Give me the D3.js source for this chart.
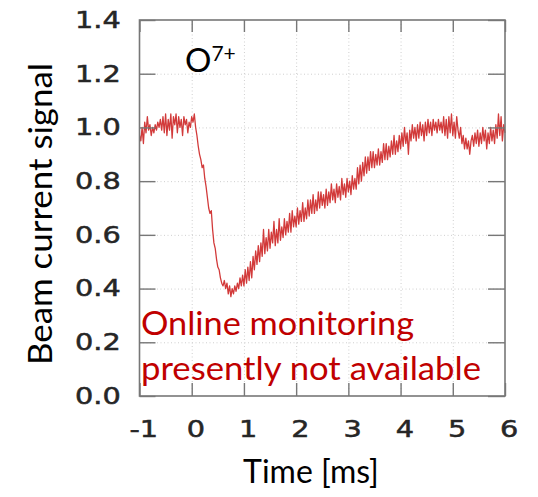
<!DOCTYPE html>
<html>
<head>
<meta charset="utf-8">
<script src="https://cdn.jsdelivr.net/npm/d3@7"></script>
<style>
  body { margin: 0; background: #fff; }
  svg { display: block; }
</style>
</head>
<body>
<svg id="chart" width="538" height="497"></svg>
<script>
// beam current trace, one sample every 0.025 ms starting at -1 ms
var tStart = -1, tStep = 0.025;
var signal = [
  0.97, 0.95, 1.00, 0.94, 1.02, 0.98, 1.04, 0.99, 1.01, 0.97,
  1.00, 0.98, 1.01, 0.99, 1.02, 1.00, 1.03, 0.99, 1.04, 0.98,
  1.05, 0.97, 1.03, 0.99, 1.05, 0.96, 1.04, 1.01, 1.05, 0.98,
  1.04, 1.00, 1.03, 0.97, 1.04, 1.01, 1.03, 0.98, 1.02, 1.00,
  1.04, 1.02, 1.05, 1.00, 0.97, 0.93, 0.90, 0.88, 0.85, 0.86,
  0.81, 0.78, 0.74, 0.70, 0.68, 0.69, 0.62, 0.57, 0.55, 0.51,
  0.48, 0.47, 0.44, 0.42, 0.41, 0.43, 0.40, 0.42, 0.38, 0.41,
  0.37, 0.40, 0.38, 0.41, 0.39, 0.42, 0.40, 0.44, 0.41, 0.45,
  0.41, 0.47, 0.42, 0.48, 0.43, 0.50, 0.44, 0.52, 0.47, 0.54,
  0.49, 0.56, 0.50, 0.57, 0.52, 0.62, 0.53, 0.59, 0.54, 0.62,
  0.55, 0.61, 0.57, 0.65, 0.56, 0.62, 0.57, 0.66, 0.58, 0.63,
  0.59, 0.66, 0.60, 0.65, 0.61, 0.68, 0.61, 0.69, 0.63, 0.67,
  0.63, 0.70, 0.64, 0.69, 0.65, 0.72, 0.65, 0.70, 0.66, 0.73,
  0.67, 0.73, 0.68, 0.75, 0.68, 0.73, 0.69, 0.76, 0.70, 0.76,
  0.71, 0.75, 0.70, 0.77, 0.71, 0.76, 0.72, 0.79, 0.73, 0.77,
  0.72, 0.79, 0.74, 0.78, 0.73, 0.81, 0.75, 0.79, 0.74, 0.81,
  0.76, 0.80, 0.75, 0.82, 0.77, 0.81, 0.77, 0.85, 0.79, 0.86,
  0.80, 0.87, 0.82, 0.89, 0.83, 0.89, 0.84, 0.91, 0.85, 0.91,
  0.85, 0.90, 0.86, 0.92, 0.86, 0.91, 0.87, 0.94, 0.88, 0.94,
  0.88, 0.93, 0.89, 0.95, 0.90, 0.97, 0.90, 0.95, 0.91, 0.97,
  0.92, 0.98, 0.93, 1.00, 0.94, 0.98, 0.90, 0.99, 0.95, 1.01,
  0.96, 1.00, 0.95, 1.01, 0.96, 1.02, 0.97, 1.01, 0.95, 1.02,
  0.97, 1.03, 0.98, 1.02, 0.97, 1.03, 0.99, 1.02, 0.98, 1.03,
  0.99, 1.02, 0.98, 1.04, 0.97, 1.03, 0.96, 1.04, 0.98, 1.05,
  0.97, 1.02, 0.96, 1.04, 0.99, 0.96, 1.00, 0.94, 0.97, 0.92,
  0.96, 0.92, 0.95, 0.90, 0.95, 0.97, 0.93, 0.98, 0.94, 0.99,
  0.93, 0.98, 0.94, 1.00, 0.95, 0.99, 0.92, 0.98, 0.94, 1.00,
  0.95, 0.99, 0.94, 1.01, 0.96, 1.05, 0.97, 1.04, 0.95, 1.01,
  0.98
];
var xTicks = [-1, 0, 1, 2, 3, 4, 5, 6];
var yTicks = [0.0, 0.2, 0.4, 0.6, 0.8, 1.0, 1.2, 1.4];
var gridX = [0, 1, 2, 3, 4, 5];
var gridY = [0.2, 0.4, 0.6, 0.8, 1.0, 1.2];
var ionName = "O", ionCharge = "7+";
var noteLines = ["Online monitoring", "presently not available"];
var xTitle = "Time [ms]", yTitle = "Beam current signal";

var plot = { left: 139.5, right: 505, top: 20, bottom: 396 };
var tickFont = "'DejaVu Sans', sans-serif";
var textFont = "Lato, 'Open Sans', sans-serif";

var svg = d3.select("#chart");

var x = d3.scaleLinear().domain([-1, 6]).range([plot.left, plot.right]);
var y = d3.scaleLinear().domain([0, 1.4]).range([plot.bottom, plot.top]);

var points = signal.map(function (v, i) {
  return { t: tStart + i * tStep, v: v };
});

// dotted grid
svg.append("g")
  .attr("class", "grid")
  .attr("transform", "translate(0," + plot.bottom + ")")
  .call(d3.axisBottom(x).tickValues(gridX).tickSize(-(plot.bottom - plot.top)).tickFormat(""));
svg.append("g")
  .attr("class", "grid")
  .attr("transform", "translate(" + plot.left + ",0)")
  .call(d3.axisLeft(y).tickValues(gridY).tickSize(-(plot.right - plot.left)).tickFormat(""));
svg.selectAll(".grid .domain").remove();
svg.selectAll(".grid line")
  .attr("stroke", "#cfcfcf")
  .attr("stroke-width", 1)
  .attr("stroke-dasharray", "1,2.5");

// trace
var line = d3.line()
  .x(function (d) { return x(d.t); })
  .y(function (d) { return y(d.v); });

svg.append("path")
  .datum(points)
  .attr("fill", "none")
  .attr("stroke", "#d23a3a")
  .attr("stroke-width", 1.3)
  .attr("stroke-linejoin", "round")
  .attr("d", line);

// inward ticks on all four sides
var left = svg.append("g")
  .attr("transform", "translate(" + plot.left + ",0)")
  .call(d3.axisLeft(y).tickValues(yTicks).tickSize(-16).tickPadding(15)
    .tickFormat(d3.format(".1f")));
svg.append("g")
  .attr("transform", "translate(" + plot.right + ",0)")
  .call(d3.axisRight(y).tickValues(yTicks).tickSize(-17).tickFormat(""));
svg.append("g")
  .attr("transform", "translate(0," + plot.top + ")")
  .call(d3.axisTop(x).tickValues(xTicks).tickSize(-12).tickFormat(""));
var bottom = svg.append("g")
  .attr("transform", "translate(0," + plot.bottom + ")")
  .call(d3.axisBottom(x).tickValues(xTicks).tickSize(-13).tickPadding(25)
    .tickFormat(function (d) { return String(d); })); // plain hyphen for -1

svg.selectAll(".domain").remove();
svg.selectAll(".tick line").filter(function () {
  return !this.parentNode.parentNode.classList.contains("grid");
}).attr("stroke", "#777").attr("stroke-width", 1.4);

svg.selectAll(".tick text").filter(function () { return this.textContent != ""; })
  .attr("font-family", tickFont)
  .attr("font-size", 23)
  .attr("fill", "#262626")
  .attr("stroke", "#262626")
  .attr("stroke-width", 0.5)
  .attr("transform", "scale(1.25,1)");
bottom.selectAll("text").attr("dx", 3);

// frame
svg.append("rect")
  .attr("x", plot.left)
  .attr("y", plot.top)
  .attr("width", plot.right - plot.left)
  .attr("height", plot.bottom - plot.top)
  .attr("fill", "none")
  .attr("stroke", "#777")
  .attr("stroke-width", 1.6);

// ion label
var ion = svg.append("text")
  .attr("x", 185)
  .attr("y", 72)
  .attr("font-family", textFont)
  .attr("font-size", 33)
  .attr("fill", "#000");
ion.append("tspan").text(ionName);
ion.append("tspan")
  .attr("font-size", 21)
  .attr("dy", -11)
  .text(ionCharge);

// note
svg.selectAll(".note")
  .data(noteLines)
  .enter().append("text")
  .attr("class", "note")
  .attr("x", 141)
  .attr("y", function (d, i) { return 335 + i * 45; })
  .attr("font-family", textFont)
  .attr("font-size", 32)
  .attr("fill", "#c00000")
  .attr("textLength", function (d, i) { return i == 0 ? 273 : 340; })
  .attr("lengthAdjust", "spacingAndGlyphs")
  .text(function (d) { return d; });

// axis titles
svg.append("text")
  .attr("x", 311)
  .attr("y", 483)
  .attr("text-anchor", "middle")
  .attr("font-family", textFont)
  .attr("font-size", 32)
  .attr("fill", "#000")
  .text(xTitle);

svg.append("text")
  .attr("transform", "translate(52,214) rotate(-90)")
  .attr("text-anchor", "middle")
  .attr("font-family", textFont)
  .attr("font-size", 32)
  .attr("fill", "#000")
  .attr("textLength", 302)
  .attr("lengthAdjust", "spacingAndGlyphs")
  .text(yTitle);
</script>
</body>
</html>
